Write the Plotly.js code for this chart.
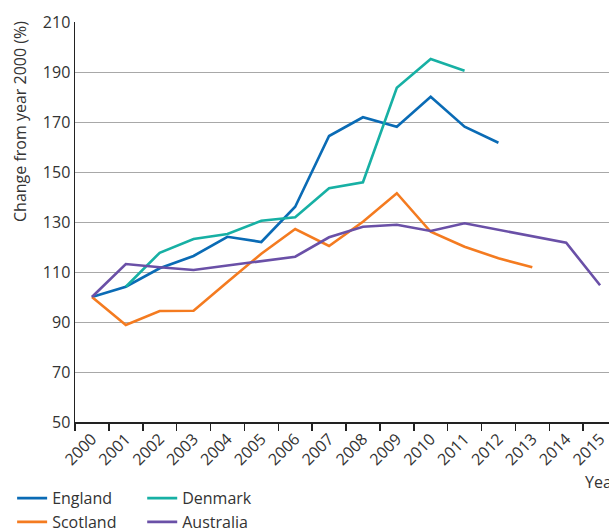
<!DOCTYPE html>
<html>
<head>
<meta charset="utf-8">
<script src="https://cdn.plot.ly/plotly-3.0.1.min.js"></script>
<style>
html, body { margin: 0; padding: 0; overflow: hidden; background: #fff; }
#chart { width: 640px; height: 528px; }
</style>
</head>
<body>
<div id="chart"></div>
<script>
var years = ['2000','2001','2002','2003','2004','2005','2006','2007','2008','2009','2010','2011','2012','2013','2014','2015'];
var england   = [100, 104.1, 111.5, 116.4, 124.1, 122.0, 136.1, 164.4, 171.9, 168.1, 180.1, 168.1, 161.7, null, null, null];
var denmark   = [null, 104.1, 117.7, 123.2, 125.2, 130.5, 131.9, 143.5, 145.9, 183.7, 195.2, 190.5, null, null, null, null];
var scotland  = [100, 88.8, 94.4, 94.5, 106.0, 117.3, 127.2, 120.4, 130.1, 141.5, 126.1, 120.1, 115.5, 111.9, null, null];
var australia = [100, 113.2, 111.9, 110.8, 112.6, 114.3, 116.1, 123.9, 128.1, 128.9, 126.4, 129.5, 126.8, 124.1, 121.7, 104.7];
var yTicks = [50, 70, 90, 110, 130, 150, 170, 190, 210];

var textColor = '#333333';
var fontFam = '"Open Sans", "DejaVu Sans", sans-serif';

function tr(name, vals, color, legend) {
  return {
    type: 'scatter', mode: 'lines', name: name, x: years, y: vals,
    line: { color: color, width: 2.6 }, legend: legend,
    connectgaps: false, hoverinfo: 'x+y+name'
  };
}

var data = [
  tr('England', england, '#0a6bb5', 'legend'),
  tr('Scotland', scotland, '#f47b20', 'legend'),
  tr('Denmark', denmark, '#17b0a4', 'legend2'),
  tr('Australia', australia, '#6a50a7', 'legend2')
];

var legendCommon = {
  orientation: 'v', xanchor: 'left', yanchor: 'top',
  font: { family: fontFam, size: 16, color: textColor },
  bgcolor: 'rgba(0,0,0,0)', borderwidth: 0, tracegroupgap: 0,
  traceorder: 'normal'
};

var layout = {
  width: 640, height: 528,
  margin: { l: 75, r: 23, t: 22, b: 106, autoexpand: false },
  paper_bgcolor: '#ffffff', plot_bgcolor: '#ffffff',
  font: { family: fontFam, size: 16, color: textColor },
  showlegend: true,
  legend: Object.assign({}, legendCommon, { x: -0.116, y: -0.148 }),
  legend2: Object.assign({}, legendCommon, { x: 0.124, y: -0.148 }),
  xaxis: {
    type: 'category', range: [-0.5, 15.5],
    tickson: 'boundaries', ticks: 'outside', ticklen: 7, tickwidth: 1.5, tickcolor: '#222',
    tickangle: -45, showgrid: false, zeroline: false,
    showline: true, linecolor: '#222', linewidth: 1.5,
    tickfont: { family: fontFam, size: 16, color: textColor },
    fixedrange: true
  },
  yaxis: {
    range: [50, 210], tickmode: 'array', tickvals: yTicks, ticktext: yTicks.map(String),
    showgrid: true, gridcolor: '#a8a8a8', gridwidth: 1,
    zeroline: false, showline: true, linecolor: '#222', linewidth: 1.5,
    ticks: '', tickfont: { family: fontFam, size: 16, color: textColor },
    fixedrange: true
  },
  annotations: [
    { text: 'Change from year 2000 (%)', xref: 'paper', yref: 'paper',
      x: 0, y: 0.75, xshift: -55, textangle: -90, showarrow: false,
      xanchor: 'center', yanchor: 'middle',
      font: { family: fontFam, size: 16, color: textColor } },
    { text: 'Year', xref: 'paper', yref: 'paper',
      x: 0.937, y: -0.15, showarrow: false, xanchor: 'left', yanchor: 'middle',
      font: { family: fontFam, size: 16, color: textColor } }
  ]
};

Plotly.newPlot('chart', data, layout, { displayModeBar: false, staticPlot: true });
</script>
</body>
</html>
